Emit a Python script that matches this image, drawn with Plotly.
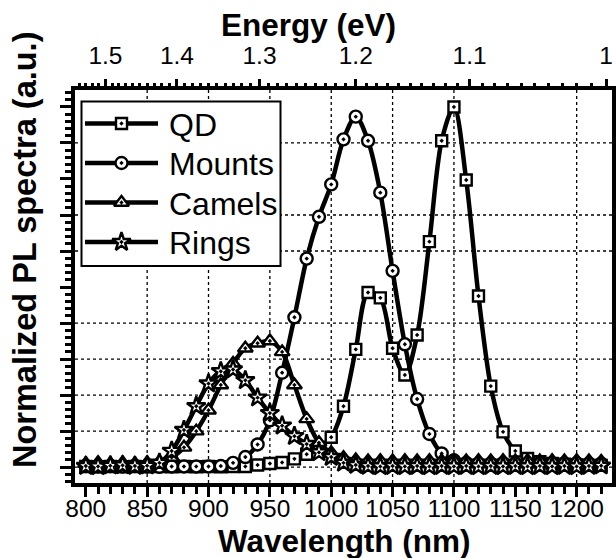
import numpy as np
import plotly.graph_objects as go

# ---------------- data ----------------
wavelength = [800, 810, 820, 830, 840, 850, 860, 870, 880, 890, 900, 910, 920, 930, 940,
              950, 960, 970, 980, 990, 1000, 1010, 1020, 1030, 1040, 1050, 1060, 1070,
              1080, 1090, 1100, 1110, 1120, 1130, 1140, 1150, 1160, 1170, 1180, 1190,
              1200, 1210, 1220]

qd = [0.002, 0.001, 0.002, 0.001, 0.002, 0.001, 0.002, 0.001, 0.002, 0.001, 0.002, 0.001,
      0.002, 0.002, 0.006, 0.010, 0.013, 0.023, 0.036, 0.055, 0.083, 0.169, 0.327, 0.485,
      0.470, 0.330, 0.256, 0.367, 0.626, 0.906, 1.000, 0.797, 0.475, 0.225, 0.098, 0.045,
      0.024, 0.015, 0.010, 0.008, 0.006, 0.005, 0.005]

mounts = [0.003, 0.002, 0.003, 0.002, 0.003, 0.002, 0.001, 0.002, 0.002, 0.002, 0.002, 0.003,
          0.012, 0.028, 0.063, 0.130, 0.262, 0.416, 0.579, 0.695, 0.785, 0.910, 0.973, 0.906,
          0.762, 0.545, 0.341, 0.189, 0.092, 0.038, 0.019, 0.012, 0.010, 0.010, 0.011, 0.010,
          0.010, 0.011, 0.010, 0.010, 0.011, 0.010, 0.010]

camels = [0.010, 0.012, 0.010, 0.012, 0.010, 0.012, 0.016, 0.027, 0.055, 0.100, 0.158, 0.228,
          0.288, 0.330, 0.344, 0.350, 0.320, 0.228, 0.134, 0.068, 0.040, 0.026, 0.020, 0.017,
          0.018, 0.017, 0.018, 0.017, 0.018, 0.017, 0.018, 0.017, 0.018, 0.017, 0.018, 0.017,
          0.018, 0.017, 0.018, 0.017, 0.018, 0.017, 0.016]

rings = [0.003, 0.002, 0.004, 0.005, 0.003, 0.004, 0.012, 0.045, 0.103, 0.169, 0.232, 0.266,
         0.271, 0.241, 0.193, 0.150, 0.115, 0.086, 0.064, 0.041, 0.028, 0.012, 0.006, 0.003,
         0.002, 0.003, 0.002, 0.003, 0.002, 0.003, 0.002, 0.003, 0.002, 0.003, 0.002, 0.003,
         0.002, 0.003, 0.002, 0.003, 0.002, 0.003, 0.004]

series_names = ["QD", "Mounts", "Camels", "Rings"]
series_values = [qd, mounts, camels, rings]
series_symbols = ["square-dot", "circle-dot", "triangle-up-dot", "star-dot"]
series_sizes = [11, 12, 13, 14]

x_ticks = [800, 850, 900, 950, 1000, 1050, 1100, 1150, 1200]
energy_ticks = [1.5, 1.4, 1.3, 1.2, 1.1, 1.0]
energy_labels = ["1.5", "1.4", "1.3", "1.2", "1.1", "1"]
HC = 1224.0  # eV*nm conversion used by the original top axis

grid_x = [850, 900, 950, 1000, 1050, 1100, 1200]
grid_y = [0.0, 0.1, 0.2, 0.3, 0.4, 0.6, 0.7, 0.9]

# ---------------- layout constants ----------------
W, H = 616, 558
ML, MR, MT, MB = 75, 4, 90, 75
XR = [791.2, 1228.8]
YR = [-0.044, 1.047]
FONT = "Liberation Sans, Arial, Helvetica, sans-serif"
PW = W - ML - MR
PH = H - MT - MB


def px_to_paper_x(px):
    return (px - ML) / PW


def px_to_paper_y(py):
    return (H - MB - py) / PH


fig = go.Figure()

for name, vals, sym, sz in zip(series_names, series_values, series_symbols, series_sizes):
    fig.add_trace(go.Scatter(
        x=wavelength, y=vals, name=name, mode="lines+markers",
        line=dict(color="black", width=4.5, shape="spline", smoothing=0.9),
        marker=dict(symbol=sym, size=sz, color="white",
                    line=dict(color="black", width=2.4)),
        showlegend=False, cliponaxis=True,
    ))

# dummy trace to activate top axis
fig.add_trace(go.Scatter(x=[], y=[], xaxis="x2", showlegend=False))

# ---------------- manual legend ----------------
leg_left, leg_right, leg_top, leg_bottom = 81.5, 280.5, 101.5, 266
leg_rows = [123.5, 163.0, 202.5, 242.0]
line_x0, line_x1, mark_x, text_x = 85, 158, 121.5, 167

shapes = []
for gx in grid_x:
    shapes.append(dict(type="line", xref="x", yref="paper", x0=gx, x1=gx, y0=0, y1=1,
                       line=dict(color="black", width=1.3, dash="dot"), layer="below"))
for gy in grid_y:
    shapes.append(dict(type="line", xref="paper", yref="y", x0=0, x1=1, y0=gy, y1=gy,
                       line=dict(color="black", width=1.3, dash="dot"), layer="below"))

shapes.append(dict(type="rect", xref="paper", yref="paper",
                   x0=px_to_paper_x(leg_left), x1=px_to_paper_x(leg_right),
                   y0=px_to_paper_y(leg_bottom), y1=px_to_paper_y(leg_top),
                   fillcolor="white", line=dict(color="black", width=2), layer="between"))
for ry in leg_rows:
    shapes.append(dict(type="line", xref="paper", yref="paper",
                       x0=px_to_paper_x(line_x0), x1=px_to_paper_x(line_x1),
                       y0=px_to_paper_y(ry), y1=px_to_paper_y(ry),
                       line=dict(color="black", width=4.5), layer="between"))

for name, sym, sz, ry in zip(series_names, series_symbols, series_sizes, leg_rows):
    fig.add_trace(go.Scatter(
        x=[px_to_paper_x(mark_x)], y=[px_to_paper_y(ry)], xaxis="x4", yaxis="y4",
        mode="markers", showlegend=False, hoverinfo="skip",
        marker=dict(symbol=sym, size=sz, color="white", line=dict(color="black", width=2.4)),
    ))

annotations = []
for name, ry in zip(series_names, leg_rows):
    annotations.append(dict(text=name, xref="paper", yref="paper",
                            x=px_to_paper_x(text_x), y=px_to_paper_y(ry + 1),
                            xanchor="left", yanchor="middle", showarrow=False,
                            font=dict(family=FONT, size=32, color="black")))

annotations.append(dict(text="Wavelength (nm)", xref="paper", yref="paper",
                        x=px_to_paper_x(344), y=px_to_paper_y(540.5), xanchor="center",
                        yanchor="middle", showarrow=False,
                        font=dict(family=FONT, size=31.5, color="black", weight="bold")))
annotations.append(dict(text="Energy (eV)", xref="paper", yref="paper",
                        x=px_to_paper_x(308.5), y=px_to_paper_y(25), xanchor="center",
                        yanchor="middle", showarrow=False,
                        font=dict(family=FONT, size=31.5, color="black", weight="bold")))
annotations.append(dict(text="Normalized PL spectra (a.u.)", xref="paper", yref="paper",
                        x=px_to_paper_x(25), y=px_to_paper_y(250), xanchor="center",
                        yanchor="middle", showarrow=False, textangle=-90,
                        font=dict(family=FONT, size=32.5, color="black", weight="bold")))

energy_minor = [round(e, 2) for e in np.arange(1.0, 1.55, 0.01)]
energy_minor = [HC / e for e in energy_minor if round(e, 2) not in energy_ticks]

tickfont = dict(family=FONT, size=24.5, color="black")

fig.update_layout(
    template="none",
    width=W, height=H,
    margin=dict(l=ML, r=MR, t=MT, b=MB, autoexpand=False),
    paper_bgcolor="white", plot_bgcolor="white",
    shapes=shapes, annotations=annotations,
    xaxis=dict(range=XR, tickmode="array", tickvals=x_ticks, automargin=False,
               ticktext=[str(v) for v in x_ticks], ticks="outside", ticklen=10,
               tickwidth=3, tickcolor="black", showgrid=False, zeroline=False,
               showline=True, linecolor="black", linewidth=4, mirror=True,
               tickfont=tickfont, ticklabelstandoff=-9,
               minor=dict(ticks="outside", dtick=10, tick0=800, ticklen=7, tickwidth=3,
                          tickcolor="black", showgrid=False)),
    xaxis2=dict(range=XR, overlaying="x", side="top", anchor="y", tickmode="array",
                tickvals=[HC / e for e in energy_ticks], ticktext=energy_labels,
                automargin=False, ticklabelstandoff=5,
                ticks="outside", ticklen=10, tickwidth=3, tickcolor="black",
                showgrid=False, zeroline=False, showline=False, tickfont=tickfont,
                minor=dict(ticks="outside", tickmode="array", tickvals=energy_minor,
                           ticklen=6, tickwidth=2.5, tickcolor="black", showgrid=False)),
    yaxis=dict(range=YR, showticklabels=False, ticks="outside", tick0=0, dtick=0.1,
               automargin=False,
               ticklen=11, tickwidth=3, tickcolor="black", showgrid=False,
               zeroline=False, showline=True, linecolor="black", linewidth=4,
               mirror=True,
               minor=dict(ticks="outside", tick0=0, dtick=0.02, ticklen=6, tickwidth=2.5,
                          tickcolor="black", showgrid=False)),
    xaxis4=dict(range=[0, 1], overlaying="x", anchor="y4", visible=False, automargin=False),
    yaxis4=dict(range=[0, 1], overlaying="y", anchor="x4", visible=False, automargin=False),
)

fig.write_html("out.html", config={"displayModeBar": False},
               post_script="document.body.style.margin='0';"
                           "document.body.style.overflow='hidden';")
